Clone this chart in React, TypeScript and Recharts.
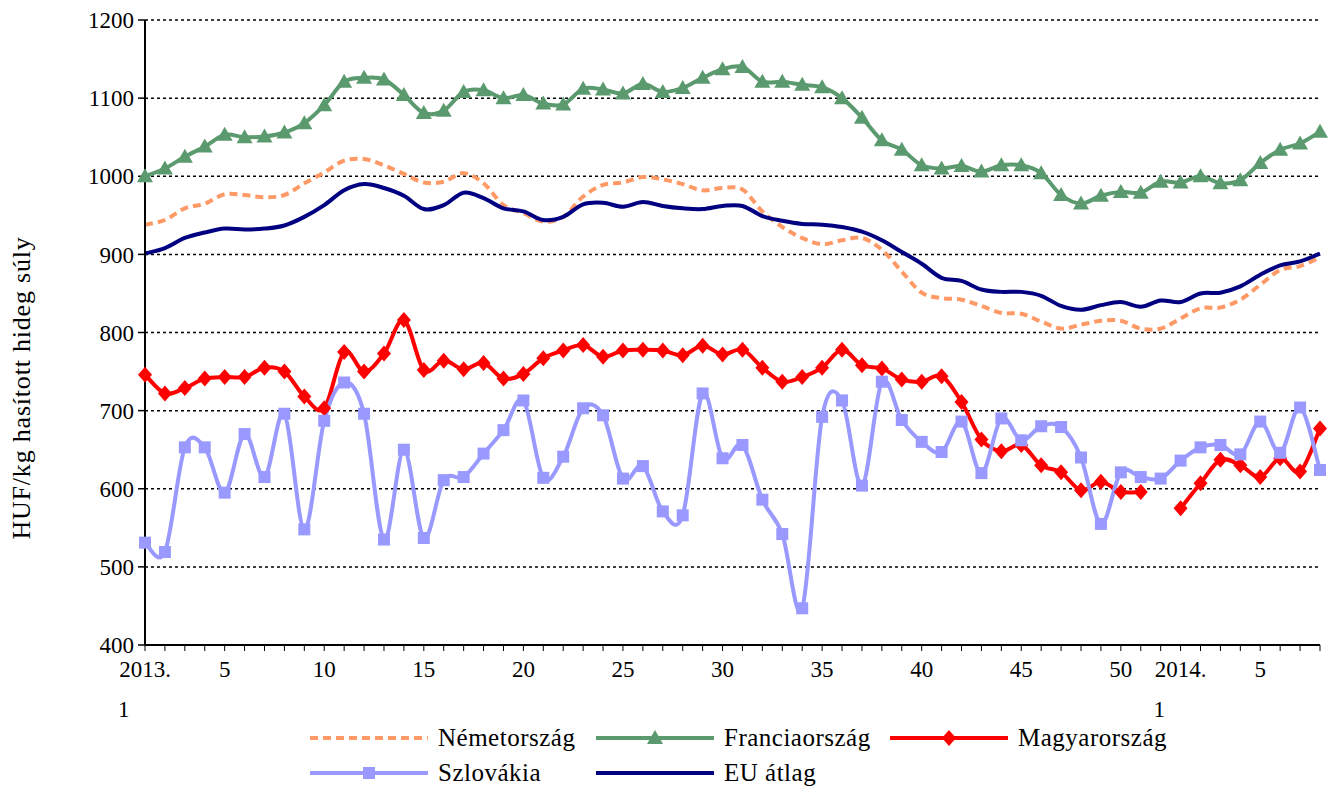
import React from "react";
import { LineChart, Line, XAxis, YAxis, CartesianGrid } from "recharts";

// week categories: 2013 weeks 1-52, then 2014 weeks 1-8
const categories: string[] = [
  ...Array.from({ length: 52 }, (_, i) => `2013. ${i + 1}`),
  ...Array.from({ length: 8 }, (_, i) => `2014. ${i + 1}`),
];

const tickLabels: Record<string, string[]> = {
  "2013. 1": ["2013.", "1"],
  "2013. 5": ["5"],
  "2013. 10": ["10"],
  "2013. 15": ["15"],
  "2013. 20": ["20"],
  "2013. 25": ["25"],
  "2013. 30": ["30"],
  "2013. 35": ["35"],
  "2013. 40": ["40"],
  "2013. 45": ["45"],
  "2013. 50": ["50"],
  "2014. 1": ["2014.", "1"],
  "2014. 5": ["5"],
};

const yTicks = [400, 500, 600, 700, 800, 900, 1000, 1100, 1200];

const nemetorszag = [
  938, 944, 959, 965, 977, 976, 973, 976, 991, 1005, 1020, 1022, 1014, 1003, 992, 993, 1004, 991, 963, 953,
  942, 948, 974, 989, 992, 999, 996, 990, 982, 985, 983, 955, 935, 921, 913, 918, 921, 906, 878, 851,
  844, 842, 834, 825, 824, 814, 805, 810, 815, 815, 805, 805, 818, 831, 832, 842, 861, 880, 885, 896,
];
const franciaorszag = [
  1000, 1010, 1025, 1038, 1053, 1050, 1051, 1056, 1068, 1091, 1121, 1126, 1124, 1104, 1081, 1084, 1108, 1110, 1100, 1104,
  1093, 1092, 1112, 1111, 1106, 1118, 1108, 1113, 1126, 1137, 1140, 1121, 1121, 1117, 1114, 1100, 1075, 1046, 1034, 1014,
  1010, 1013, 1006, 1014, 1014, 1004, 976, 965, 975, 980, 979, 993, 992, 1000, 991, 995, 1017, 1034, 1042, 1057,
];
const magyarorszag = [
  746, 722, 729, 741, 743, 743, 755, 750, 718, 703, 775, 750, 773, 816, 752, 764, 753, 761, 741, 747,
  767, 777, 784, 769, 777, 778, 777, 771, 783, 772, 778, 755, 737, 743, 755, 778, 758, 754, 740, 737,
  744, 711, 663, 648, 656, 630, 621, 598, 609, 596, 596, null, 575, 607, 637, 630, 615, 639, 622, 677,
];
const szlovakia = [
  531, 519, 653, 653, 595, 670, 615, 696, 548, 687, 736, 696, 535, 650, 537, 611, 615, 645, 675, 713,
  614, 641, 703, 694, 613, 629, 571, 566, 722, 639, 656, 586, 542, 447, 692, 713, 604, 737, 688, 660,
  647, 686, 620, 690, 662, 680, 679, 640, 555, 621, 615, 613, 636, 653, 656, 644, 686, 646, 704, 624,
];
const euAtlag = [
  901, 908, 921, 928, 933, 932, 933, 937, 948, 963, 982, 990, 985, 975, 958, 963, 979, 972, 959, 955,
  944, 948, 964, 966, 961, 967, 962, 959, 958, 962, 962, 949, 943, 939, 938, 935, 929, 918, 903, 888,
  870, 866, 855, 852, 852, 847, 834, 829, 835, 839, 833, 841, 839, 850, 851, 859, 874, 886, 891, 901,
];

const data = categories.map((week, i) => ({
  week,
  nemet: nemetorszag[i],
  francia: franciaorszag[i],
  magyar: magyarorszag[i],
  szlovak: szlovakia[i],
  eu: euAtlag[i],
}));

const FONT = "'Liberation Serif', 'Times New Roman', serif";
const ORANGE = "#FF9966";
const GREEN = "#5A9A6E";
const RED = "#FF0000";
const LILAC = "#9999FF";
const NAVY = "#000080";

// Excel-like smoothed line (Catmull-Rom bezier)
function smoothCurve(context: any) {
  let pts: number[][] = [];
  return {
    areaStart() {},
    areaEnd() {},
    lineStart() {
      pts = [];
    },
    lineEnd() {
      if (!pts.length) return;
      context.moveTo(pts[0][0], pts[0][1]);
      for (let i = 0; i < pts.length - 1; i++) {
        const p0 = pts[i - 1] || pts[i];
        const p1 = pts[i];
        const p2 = pts[i + 1];
        const p3 = pts[i + 2] || p2;
        context.bezierCurveTo(
          p1[0] + (p2[0] - p0[0]) / 6,
          p1[1] + (p2[1] - p0[1]) / 6,
          p2[0] - (p3[0] - p1[0]) / 6,
          p2[1] - (p3[1] - p1[1]) / 6,
          p2[0],
          p2[1]
        );
      }
    },
    point(x: number, y: number) {
      pts.push([+x, +y]);
    },
  };
}

const triangleDot = (p: any) => {
  if (p.cy == null || p.value == null) return <g key={`t${p.index}`} />;
  const { cx, cy } = p;
  return <polygon key={`t${p.index}`} points={`${cx},${cy - 8} ${cx + 8},${cy + 6} ${cx - 8},${cy + 6}`} fill={GREEN} />;
};
const diamondDot = (p: any) => {
  if (p.cy == null || p.value == null) return <g key={`d${p.index}`} />;
  const { cx, cy } = p;
  return <polygon key={`d${p.index}`} points={`${cx},${cy - 8} ${cx + 7},${cy} ${cx},${cy + 8} ${cx - 7},${cy}`} fill={RED} />;
};
const squareDot = (p: any) => {
  if (p.cy == null || p.value == null) return <g key={`s${p.index}`} />;
  return <rect key={`s${p.index}`} x={p.cx - 6} y={p.cy - 6} width={12} height={12} fill={LILAC} />;
};

function XTick(props: any) {
  const { x, y, payload } = props;
  const lines = tickLabels[payload.value];
  if (!lines) return null;
  if (lines.length === 2) {
    return (
      <g fontFamily={FONT} fontSize={23} fill="#000">
        <text x={x} y={y} dy={24} textAnchor="middle">{lines[0]}</text>
        <text x={x - 27} y={y} dy={64} textAnchor="start">{lines[1]}</text>
      </g>
    );
  }
  return (
    <text x={x} y={y} dy={24} textAnchor="middle" fontFamily={FONT} fontSize={23} fill="#000">
      {lines[0]}
    </text>
  );
}

const legendRow1 = [
  { name: "Németország", x: 310, kind: "dash", color: ORANGE },
  { name: "Franciaország", x: 596, kind: "tri", color: GREEN },
  { name: "Magyarország", x: 890, kind: "dia", color: RED },
];
const legendRow2 = [
  { name: "Szlovákia", x: 310, kind: "sq", color: LILAC },
  { name: "EU átlag", x: 596, kind: "line", color: NAVY },
];

function LegendItem({ item, y }: { item: any; y: number }) {
  const x0 = item.x;
  const x1 = item.x + 118;
  const cx = (x0 + x1) / 2;
  return (
    <g>
      <line
        x1={x0}
        y1={y}
        x2={x1}
        y2={y}
        stroke={item.color}
        strokeWidth={4}
        strokeDasharray={item.kind === "dash" ? "8 5" : undefined}
      />
      {item.kind === "tri" && <polygon points={`${cx},${y - 8} ${cx + 8},${y + 6} ${cx - 8},${y + 6}`} fill={item.color} />}
      {item.kind === "dia" && <polygon points={`${cx},${y - 8} ${cx + 7},${y} ${cx},${y + 8} ${cx - 7},${y}`} fill={item.color} />}
      {item.kind === "sq" && <rect x={cx - 6} y={y - 6} width={12} height={12} fill={item.color} />}
      <text x={x1 + 10} y={y + 8} fontFamily={FONT} fontSize={25} letterSpacing={0.5} fill="#000">
        {item.name}
      </text>
    </g>
  );
}

export default function App() {
  return (
    <div style={{ position: "absolute", left: 0, top: 0, width: 1332, height: 787, background: "#fff" }}>
      <LineChart
        width={1332}
        height={787}
        data={data}
        margin={{ top: 20, right: 12, bottom: 82, left: 0 }}
        style={{ fontFamily: FONT }}
      >
        <CartesianGrid vertical={false} stroke="#000" strokeDasharray="3 3" strokeWidth={1.5} />
        <XAxis
          dataKey="week"
          scale="point"
          padding={{ left: 0, right: 0 }}
          interval={0}
          height={60}
          tickSize={6}
          axisLine={{ stroke: "#000", strokeWidth: 2 }}
          tickLine={{ stroke: "#000", strokeWidth: 1 }}
          tick={<XTick />}
        />
        <YAxis
          domain={[400, 1200]}
          ticks={yTicks}
          interval={0}
          width={145}
          tickSize={7}
          tickMargin={4}
          axisLine={{ stroke: "#000", strokeWidth: 2 }}
          tickLine={{ stroke: "#000", strokeWidth: 1.5 }}
          tick={{ fill: "#000", fontSize: 23, fontFamily: FONT }}
        />
        <Line dataKey="nemet" type={smoothCurve as any} stroke={ORANGE} strokeWidth={4} strokeDasharray="8 5" dot={false} activeDot={false} isAnimationActive={false} />
        <Line dataKey="francia" type={smoothCurve as any} stroke={GREEN} strokeWidth={4} dot={triangleDot} activeDot={false} isAnimationActive={false} />
        <Line dataKey="magyar" type={smoothCurve as any} stroke={RED} strokeWidth={4} dot={diamondDot} activeDot={false} isAnimationActive={false} />
        <Line dataKey="szlovak" type={smoothCurve as any} stroke={LILAC} strokeWidth={4} dot={squareDot} activeDot={false} isAnimationActive={false} />
        <Line dataKey="eu" type={smoothCurve as any} stroke={NAVY} strokeWidth={4} dot={false} activeDot={false} isAnimationActive={false} />
      </LineChart>
      <svg width={1332} height={787} style={{ position: "absolute", left: 0, top: 0, pointerEvents: "none" }}>
        <text
          x={0}
          y={0}
          transform="translate(30 388) rotate(-90)"
          textAnchor="middle"
          fontFamily={FONT}
          fontSize={26}
          letterSpacing={0.8}
          fill="#000"
        >
          HUF/kg hasított hideg súly
        </text>
        {legendRow1.map((it) => (
          <LegendItem key={it.name} item={it} y={738} />
        ))}
        {legendRow2.map((it) => (
          <LegendItem key={it.name} item={it} y={773} />
        ))}
      </svg>
    </div>
  );
}
